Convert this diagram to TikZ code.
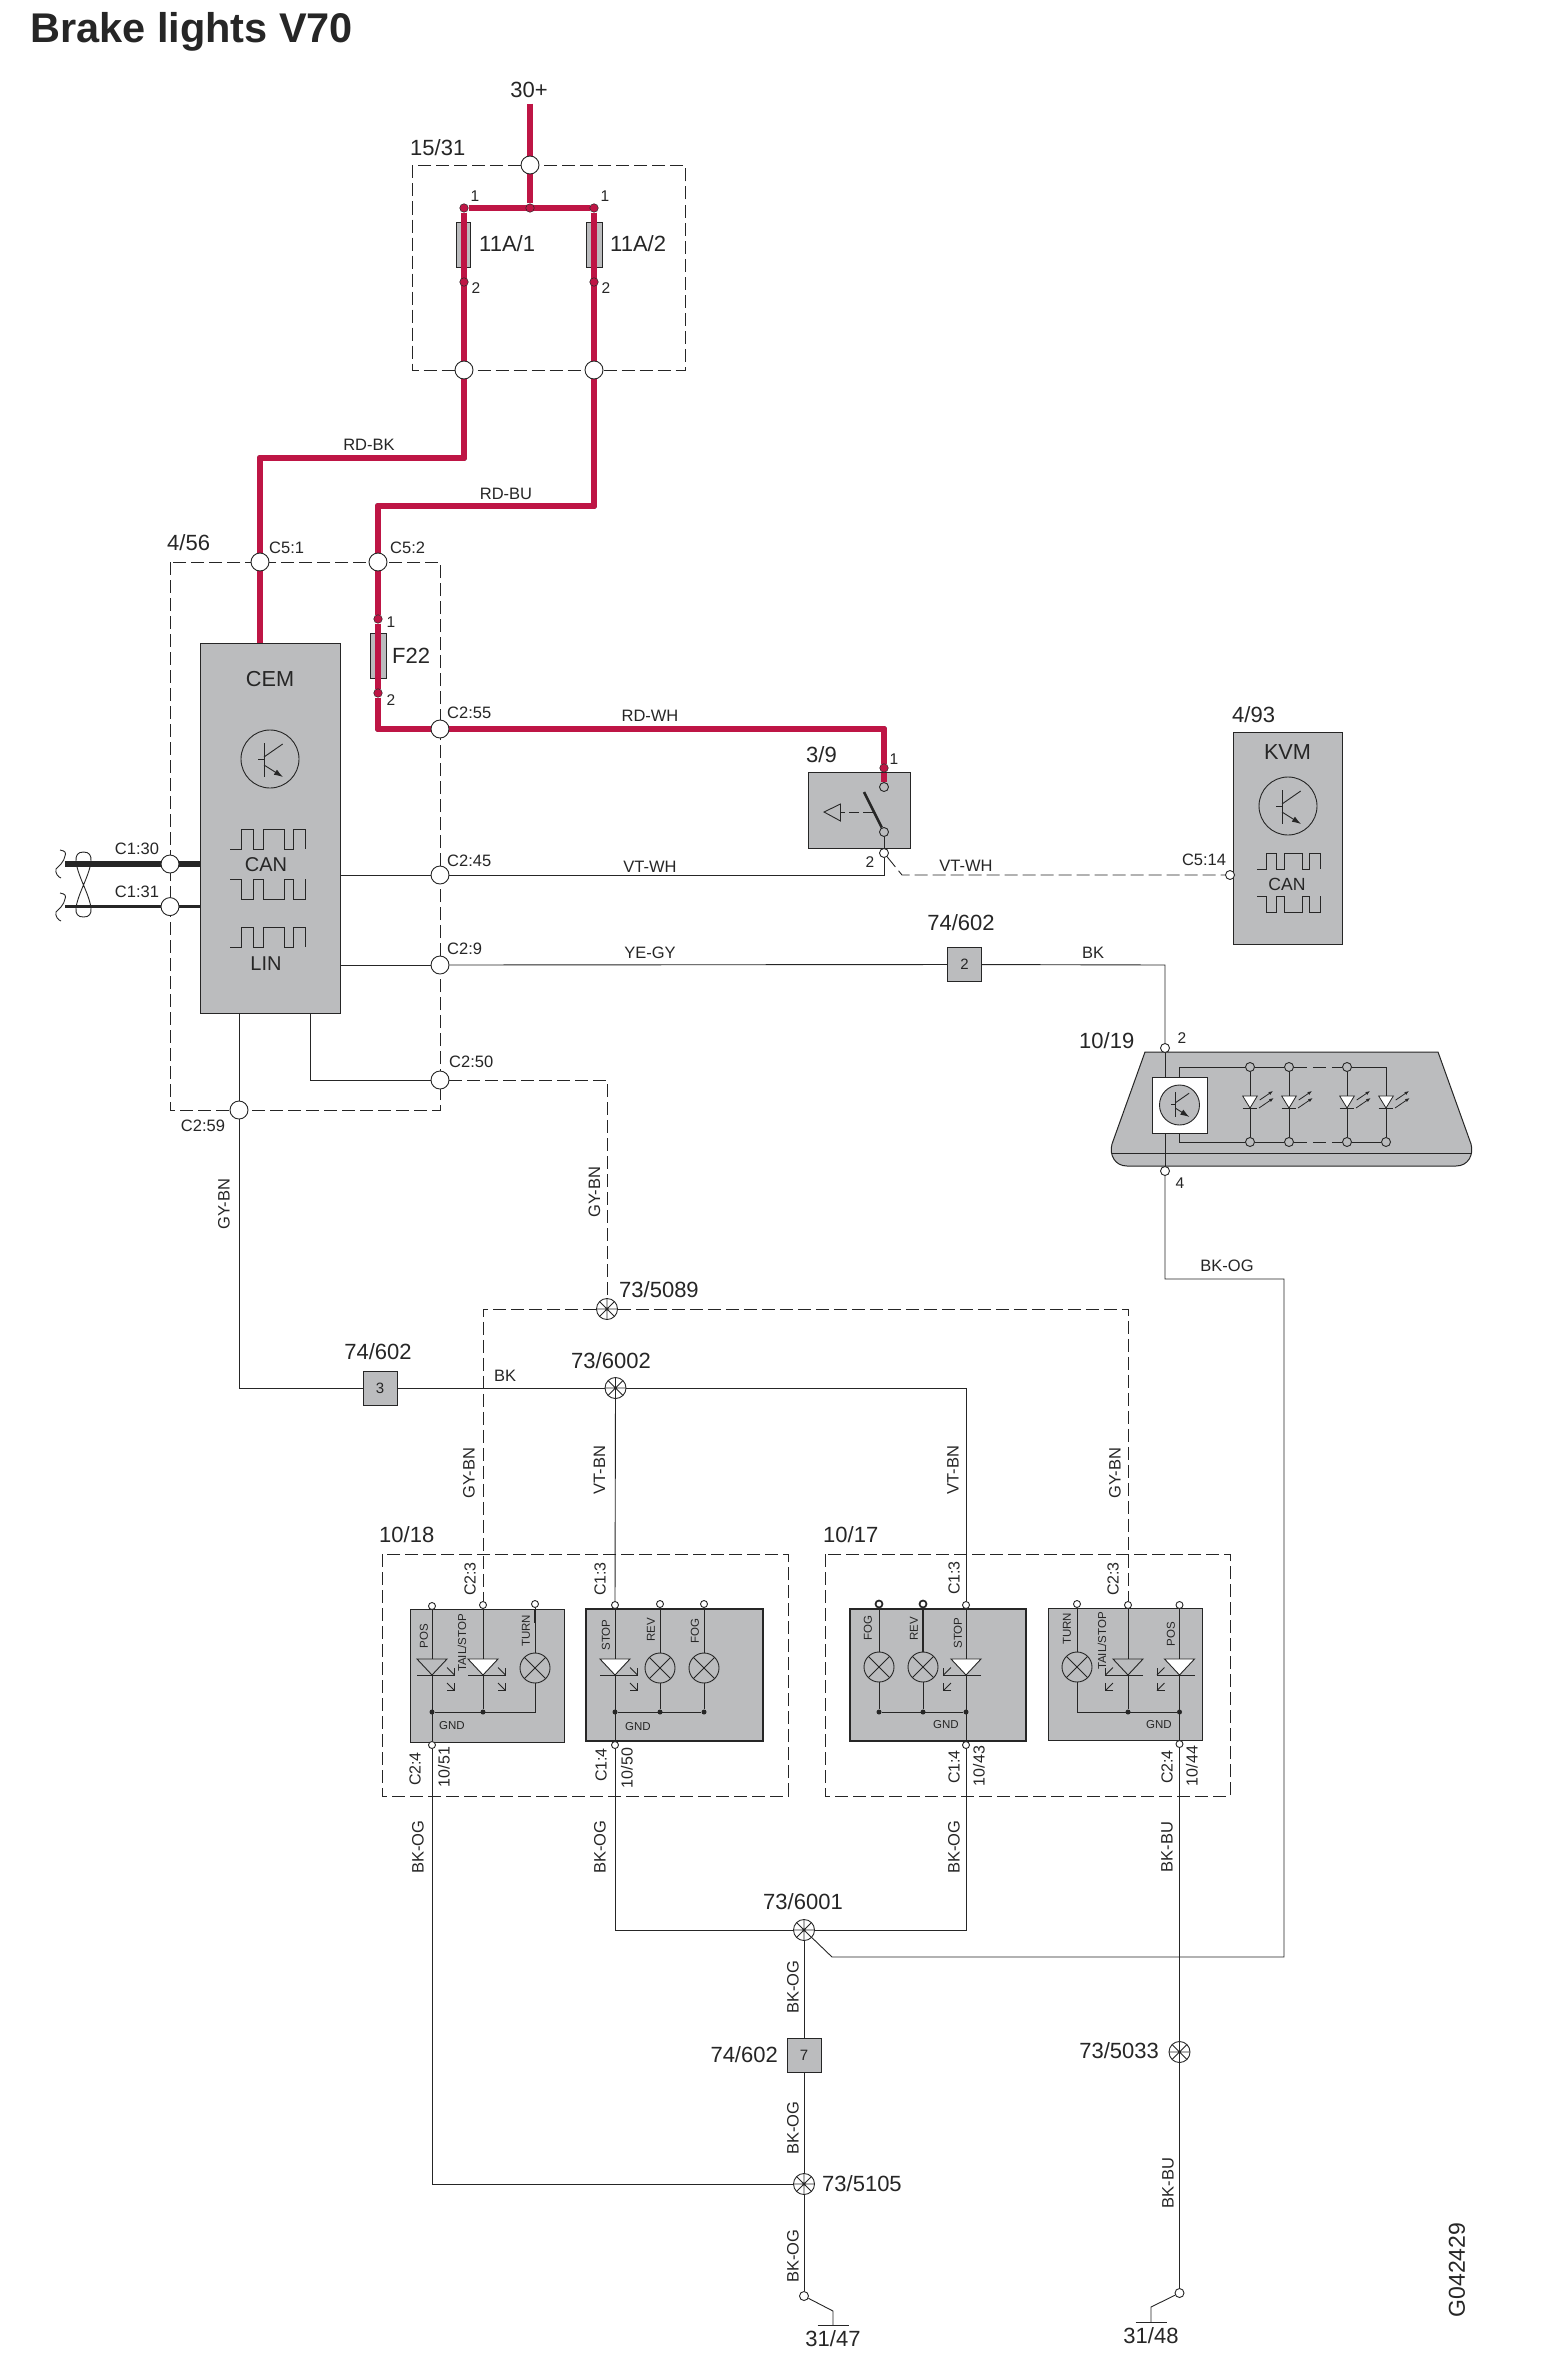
\documentclass[tikz,border=0pt]{standalone}
\usepackage{fontspec}
\setmainfont{Liberation Sans}
\usetikzlibrary{calc,arrows.meta}
\definecolor{wirered}{HTML}{BE1545}
\definecolor{modgray}{HTML}{BBBCBE}
\definecolor{inkgray}{HTML}{262626}
\pgfdeclarelayer{boxlayer}
\pgfdeclarelayer{wirelayer}
\pgfsetlayers{boxlayer,wirelayer,main}
\tikzset{
fs/.style={font=\fontsize{#1}{#1}\selectfont, inner sep=0pt, text=inkgray},
conn/.style={circle,draw=inkgray,fill=white,line width=0.9pt,inner sep=0pt,minimum size=18pt},
pin/.style={circle,draw=inkgray,fill=white,line width=0.9pt,inner sep=0pt,minimum size=#1},
pin/.default=9pt,
gpin/.style={pin=9pt,fill=modgray},
dot/.style={circle,fill=inkgray,inner sep=0pt,minimum size=5pt},
rdot/.style={circle,draw=inkgray,fill=wirered,line width=0.5pt,inner sep=0pt,minimum size=8.5pt},
lamp/.style={circle,draw=inkgray,line width=0.9pt,inner sep=0pt,minimum size=30pt,path picture={
    \draw[line width=0.9pt] (path picture bounding box.north west) -- (path picture bounding box.south east)
      (path picture bounding box.north east) -- (path picture bounding box.south west);}},
splice/.style={circle,draw=inkgray,fill=white,line width=0.9pt,inner sep=0pt,minimum size=21pt,path picture={
    \draw[line width=0.8pt] (path picture bounding box.north west) -- (path picture bounding box.south east)
      (path picture bounding box.north east) -- (path picture bounding box.south west)
      (path picture bounding box.north) -- (path picture bounding box.south)
      (path picture bounding box.west) -- (path picture bounding box.east);}},
modbox/.style={draw=inkgray,fill=modgray,line width=1pt,inner sep=0pt},
fuse/.style={draw=inkgray,fill=modgray,line width=0.7pt,inner sep=0pt,minimum height=45pt},
thinw/.style={draw=inkgray,line width=0.9pt,line join=miter},
dashw/.style={draw=inkgray,line width=0.9pt,dash pattern=on 13pt off 5pt},
redw/.style={draw=inkgray!55!wirered,double=wirered,double distance=5.4pt,line width=0.6pt,line join=round},
}
\newcommand{\tsym}[3]{%
\begin{scope}[shift={(#1,#2)},scale=#3,line width=0.9pt,draw=inkgray]
\draw (-12,0.8) -- (-6,0.8);
\draw (-6,-16) -- (-6,18);
\draw (-6,-2) -- (12.7,-15);
\draw[-{Latex[length=9pt,width=6pt]}] (-6,6) -- (13,18);
\end{scope}}
\newcommand{\pulse}[4]{%
\draw[shift={(#1,#2)},xscale=#3,yscale=#4,line width=0.9pt,draw=inkgray] (0,0) -- (11,0) -- (11,-20) -- (23,-20) -- (23,0) -- (33,0) -- (33,-20) -- (54,-20) -- (54,0) -- (63,0) -- (63,-20) -- (75,-20) -- (75,0);}
\newcommand{\ledsym}[3]{%
\begin{scope}[shift={(#1,1659)},xscale=#3,line width=0.9pt,draw=inkgray]
\filldraw[fill=#2] (-15,0) -- (15,0) -- (0,16) -- cycle;
\draw (-15,16) -- (15,16);
\foreach \dy in {8.5,24} {
    \draw (15,\dy) -- (22.5,\dy+7.5);
    \draw (15,\dy+7.5) -- (22.5,\dy+7.5) -- (22.5,\dy);
}
\end{scope}}
\newcommand{\sledsym}[1]{%
\begin{scope}[shift={(#1,1096)},line width=0.8pt,draw=inkgray]
\filldraw[fill=white] (-7.3,0) -- (7.3,0) -- (0,12) -- cycle;
\draw (-7.3,12) -- (7.3,12);
\draw[-{Latex[length=4.5pt,width=3.5pt]}] (9.7,4) -- (23,-5);
\draw[-{Latex[length=4.5pt,width=3.5pt]}] (9,12) -- (23.7,2);
\end{scope}}

\begin{document}
\begin{tikzpicture}[x=1pt,y=-1pt]
\useasboundingbox (0,0) rectangle (1552,2360);

\begin{pgfonlayer}{boxlayer}
\fill[white] (0,0) rectangle (1552,2360);
\foreach \xa/\ya/\xb/\yb in {412/165.5/685/370,170/562/440/1110,382/1554/788/1796,825/1554/1230/1796} {
    \draw[dashw] (\xa,\ya) rectangle (\xb,\yb);
}
\node[modbox,minimum width=140pt,minimum height=370pt] (cem) at (270,828) {};
\node[modbox,minimum width=109pt,minimum height=212pt] (kvm) at (1288,838) {};
\node[modbox,minimum width=102pt,minimum height=76pt] (sw) at (859,810) {};
\node[modbox,minimum width=154pt,minimum height=133pt] (moda) at (487,1675.5) {};
\node[modbox,line width=2.2pt,minimum width=177pt,minimum height=132pt] (modb) at (674.5,1675) {};
\node[modbox,line width=2.2pt,minimum width=176pt,minimum height=132pt] (modc) at (938,1675) {};
\node[modbox,minimum width=154pt,minimum height=132pt] (modd) at (1125,1674) {};
\node[fuse,minimum width=14pt] (fu1) at (463,244.5) {};
\node[fuse,minimum width=16pt] (fu2) at (594,244.5) {};
\node[fuse,minimum width=16pt] (fu3) at (378,655.5) {};
\filldraw[fill=modgray,draw=inkgray,line width=1pt] (1145,1052) -- (1438,1052) -- (1471,1144) .. controls (1474,1155) and (1468,1166) .. (1456,1166) -- (1127,1166) .. controls (1115,1166) and (1109,1155) .. (1112,1144) -- cycle;
\draw[thinw] (1112,1153) -- (1471,1153);
\end{pgfonlayer}

% connectors of the boxes
\foreach \nm/\px/\py in {j30/530/165,jf1/464/370,jf2/594/370,c51/260/562,c52/378/562,c255/440/729,c245/440/875,c29/440/965,c250/440/1080,c259/239/1110,c130/170/864,c131/170/906.6} {
    \node[conn] (\nm) at (\px,\py) {};
}
\foreach \nm/\px/\py in {d11/464/208,dm/530/208,d12/594/208,d21/464/282,d22/594/282,f1/378/619,f2/378/693,sw0/884/768} {
    \node[rdot] (\nm) at (\px,\py) {};
}
\foreach \nm/\px/\py in {sw1/884/787,sw2/884/832} {
    \node[gpin] (\nm) at (\px,\py) {};
}
\foreach \nm/\px/\py in {sw3/884/853,c514/1230/875,l2/1165/1048,l4/1165/1171,g47/804/2296,g48/1179.5/2293} {
    \node[pin] (\nm) at (\px,\py) {};
}
\foreach \nm/\px/\py in {pa1/432/1606,pa2/483/1605,pa3/535/1604,pa4/432/1745,pb1/615/1605,pb2/660/1604,pb3/704/1604,pb4/615/1745,pc3/966/1605,pc4/966/1745,pd1/1077/1604,pd2/1128/1605,pd3/1179.5/1605,pd4/1179.5/1744} {
    \node[pin=7pt] (\nm) at (\px,\py) {};
}
\foreach \nm/\px in {pc1/879,pc2/923} {
    \node[pin=7pt,line width=1.7pt] (\nm) at (\px,1604) {};
}
\foreach \nm/\px/\py in {la/535/1668,lb2/660/1668,lb3/704/1668,lc1/879/1667,lc2/923/1667,ld/1077/1667} {
    \node[lamp] (\nm) at (\px,\py) {};
}
\foreach \nm/\px in {da1/432,da2/483,db1/615,db2/660,db3/704,dc1/879,dc2/923,dc3/966,dd2/1128,dd3/1179.5} {
    \node[dot] (\nm) at (\px,1712) {};
}
\foreach \nm/\px/\py in {s5089/607/1309,s6002/615.5/1388,s6001/804/1930,s5105/804/2184,s5033/1179.5/2052} {
    \node[splice] (\nm) at (\px,\py) {};
}
\foreach \nm/\px/\py/\num in {sp2/964.5/964.5/2,sp3/380/1388/3,sp7/804/2055.5/7} {
    \node[modbox,fs=15,minimum width=34pt,minimum height=34pt] (\nm) at (\px,\py) {\num};
}

% lamp module of the brake light
\node[draw=inkgray,fill=white,line width=1pt,inner sep=0pt,minimum width=55pt,minimum height=56pt] (sq) at (1179.5,1105) {};
\node[circle,draw=inkgray,fill=modgray,line width=0.9pt,inner sep=0pt,minimum size=40pt] (sqc) at (sq) {};
\tsym{1180}{1104}{0.72}
\foreach \nm/\px in {rt1/1250,rt2/1289,rt3/1347} {
    \node[gpin] (\nm) at (\px,1067) {};
}
\foreach \nm/\px in {rb1/1250,rb2/1289,rb3/1347,rb4/1386} {
    \node[gpin] (\nm) at (\px,1142) {};
}
\foreach \px in {1250,1289,1347,1386} {
    \sledsym{\px}
}

\coordinate (w30) at (530,104);
\coordinate (bk1) at (464,458);
\coordinate (bk2) at (260,458);
\coordinate (bu1) at (594,506);
\coordinate (bu2) at (378,506);
\coordinate (wh0) at (378,729);
\coordinate (wh1) at (884,729);
\coordinate (can1) at (65,864);
\coordinate (can2) at (65,906.6);
\coordinate (vt1) at (884,875);
\coordinate (vt2) at (902,875);
\coordinate (kk1) at (1165,965);
\coordinate (ye1) at (310,1080);
\coordinate (ye2) at (607,1080);
\coordinate (gy1) at (239,1388);
\coordinate (gy2) at (483,1309);
\coordinate (gy3) at (1128,1309);
\coordinate (vt3) at (966,1388);
\coordinate (og1) at (1165,1279);
\coordinate (og2) at (1284,1279);
\coordinate (og3) at (1284,1957);
\coordinate (og4) at (832,1957);
\coordinate (og5) at (615,1930);
\coordinate (og6) at (966,1930);
\coordinate (og7) at (432,2184);
\coordinate (e47a) at (833,2311);
\coordinate (e47b) at (833,2325);
\coordinate (e48a) at (1151,2307);
\coordinate (e48b) at (1151,2322);
\coordinate (ca) at (535,1712);
\coordinate (cd) at (1077,1712);
\coordinate (rl1) at (1179,1067);
\coordinate (rl2) at (1179,1142);
\coordinate (rl3) at (1386,1067);

\begin{pgfonlayer}{wirelayer}
\draw[redw] (w30) -- (j30);
\draw[redw] (j30) -- (dm);
\draw[redw] (d11) -- (d12);
\draw[redw] (d11) -- (jf1);
\draw[redw] (d12) -- (jf2);
\draw[redw] (jf1) -- (bk1) -- (bk2) -- (c51);
\draw[redw] (jf2) -- (bu1) -- (bu2) -- (c52);
\draw[redw] (c51) -- (c51 |- cem.north);
\draw[redw] (c52) -- (f1);
\draw[redw] (f1) -- (f2);
\draw[redw] (f2) -- (wh0) -- (c255);
\draw[redw] (c255) -- (wh1) -- (sw0);
\draw[redw] (sw0) -- (sw1);
\draw[inkgray,line width=6pt] (can1) -- (c130);
\draw[inkgray,line width=6pt] (c130) -- (c130 -| cem.west);
\draw[inkgray,line width=3.5pt] (can2) -- (c131);
\draw[inkgray,line width=3.5pt] (c131) -- (c131 -| cem.west);
\draw[thinw] (c245 -| cem.east) -- (c245);
\draw[thinw] (c245) -- (vt1) -- (sw3);
\draw[thinw] (sw3) -- (sw2);
\draw[dashw] (sw3) -- (vt2) -- (c514);
\draw[thinw] (c29 -| cem.east) -- (c29);
\draw[thinw] (c29) -- (sp2);
\draw[thinw] (sp2) -- (kk1) -- (l2);
\draw[thinw] (l2) -- (l4);
\draw[thinw] (l4) -- (og1) -- (og2) -- (og3) -- (og4) -- (s6001);
\draw[thinw] (ye1 |- cem.south) -- (ye1) -- (c250);
\draw[dashw] (c250) -- (ye2) -- (s5089);
\draw[thinw] (c259 |- cem.south) -- (c259);
\draw[thinw] (c259) -- (gy1) -- (sp3);
\draw[thinw] (sp3) -- (s6002);
\draw[thinw] (s6002) -- (pb1);
\draw[thinw] (s6002) -- (vt3) -- (pc3);
\draw[dashw] (s5089) -- (gy2) -- (pa2);
\draw[dashw] (s5089) -- (gy3) -- (pd2);
% module wires
\draw[thinw] (pa1) -- (pa4);
\draw[thinw] (pa2) -- (da2);
\draw[thinw] (pa3) -- (la);
\draw[thinw] (la) -- (ca) -- (da1);
\draw[thinw] (pb1) -- (pb4);
\draw[thinw] (pb2) -- (lb2);
\draw[thinw] (lb2) -- (db2);
\draw[thinw] (pb3) -- (lb3);
\draw[thinw] (lb3) -- (db3);
\draw[thinw] (db1) -- (db3);
\draw[thinw] (pc1) -- (lc1);
\draw[thinw] (lc1) -- (dc1);
\draw[thinw,line width=2pt] (pc2) -- (lc2);
\draw[thinw] (lc2) -- (dc2);
\draw[thinw] (dc1) -- (dc3);
\draw[thinw] (pc3) -- (pc4);
\draw[thinw] (pd1) -- (ld);
\draw[thinw] (ld) -- (cd) -- (dd3);
\draw[thinw] (pd2) -- (dd2);
\draw[thinw] (pd3) -- (pd4);
\draw[thinw,line width=2pt] (pa3 |- moda.north) -- ++(0,14);
% wires to ground
\draw[thinw] (pa4) -- (og7) -- (s5105);
\draw[thinw] (pb4) -- (og5) -- (s6001);
\draw[thinw] (pc4) -- (og6) -- (s6001);
\draw[thinw] (pd4) -- (s5033);
\draw[thinw] (s5033) -- (g48);
\draw[thinw] (s6001) -- (sp7);
\draw[thinw] (sp7) -- (s5105);
\draw[thinw] (s5105) -- (g47);
\draw[thinw] (g47) -- (e47a) -- (e47b);
\draw[thinw] (g48) -- (e48a) -- (e48b);
\draw[thinw] (e47b) ++(-15.5,0) -- ++(31,0);
\draw[thinw] (e48b) ++(-15.5,0) -- ++(31,0);
% rails of the lamp module
\draw[thinw] (sq.north -| rl1) -- (rl1) -- (rt1);
\draw[thinw] (sq.south -| rl2) -- (rl2) -- (rb1);
\draw[thinw] (rt1) -- (rt2);
\draw[thinw] (rb1) -- (rb2);
\draw[thinw] (rb3) -- (rb4);
\draw[thinw] (rt3) -- (rl3) -- (rb4);
\draw[thinw,dash pattern=on 13pt off 6pt] (rt2) -- (rt3);
\draw[thinw,dash pattern=on 13pt off 6pt] (rb2) -- (rb3);
\draw[thinw] (rt1) -- (rb1);
\draw[thinw] (rt2) -- (rb2);
\draw[thinw] (rt3) -- (rb3);
\end{pgfonlayer}

\ledsym{432}{modgray}{1}
\ledsym{483}{white}{1}
\ledsym{615}{white}{1}
\ledsym{966}{white}{-1}
\ledsym{1128}{modgray}{-1}
\ledsym{1179.5}{white}{-1}

% switch
\draw[inkgray,line width=2.6pt] (864,792) -- (sw2);
\draw[dashw,dash pattern=on 10pt off 4pt] (873,812) -- (841,812);
\filldraw[fill=modgray,draw=inkgray,line width=0.9pt] (824,812) -- (840.5,804) -- (840.5,821) -- cycle;

% twisted pair
\draw[line width=0.9pt,draw=inkgray] (83.5,885) .. controls (75,865) and (72,852) .. (83.5,852) .. controls (95,852) and (92,865) .. (83.5,885) .. controls (75,905) and (72,917) .. (83.5,917) .. controls (95,917) and (92,905) .. (83.5,885);
\foreach \dy in {0,43} {
    \draw[line width=0.9pt,draw=inkgray,yshift=-\dy pt] (60,850) .. controls (66,851) and (66,853) .. (65,856) .. controls (64,862) and (59,866) .. (56,869) .. controls (55,873) and (58,877) .. (61,878);
}

\tsym{270}{759}{1}
\draw[line width=0.9pt,draw=inkgray] (270,759) circle (29);
\tsym{1288}{806}{1}
\draw[line width=0.9pt,draw=inkgray] (1288,806) circle (29);
\pulse{230}{849}{1}{1}
\pulse{230}{879}{1}{-1}
\pulse{230}{947}{1}{1}
\pulse{1257}{869}{0.84}{0.8}
\pulse{1257}{896}{0.84}{-0.8}

\node[anchor=west,fs=41.5,font=\fontsize{41.5}{42}\selectfont\bfseries] (title) at (30,31.5) {Brake lights V70};
\node[fs=23,rotate=90] (drawno) at (1457,2270) {G042429};
\foreach \px/\py/\fz/\txt [count=\i] in {270/679/21.7/CEM,1287.5/752/21.7/KVM,266/865/20/CAN,266/964/20/LIN,1287/884/17.6/CAN} {
    \node[fs=\fz] (mt\i) at (\px,\py) {\txt};
}
\foreach \px/\py/\txt [count=\i] in {369/445/RD-BK,506/494/RD-BU,650/716/RD-WH,650/867/VT-WH,966/866/VT-WH,650/953/YE-GY,1093/953/BK,505/1376/BK,1227/1266/BK-OG,137/849/C1:30,137/892/C1:31,203/1126/C2:59,1204/860/C5:14} {
    \node[fs=16.5] (wl\i) at (\px,\py) {\txt};
}
\foreach \px/\py/\txt [count=\i] in {269/548/C5:1,390/548/C5:2,447/713/C2:55,447/861/C2:45,447/949/C2:9,449/1062/C2:50} {
    \node[fs=16.5,anchor=west] (cl\i) at (\px,\py) {\txt};
}
\foreach \px/\py/\txt [count=\i] in {224/1204/GY-BN,594.5/1192/GY-BN,469/1473/GY-BN,1115/1473/GY-BN,599.5/1470/VT-BN,953/1470/VT-BN,418/1847/BK-OG,600/1847/BK-OG,954/1847/BK-OG,793/1987/BK-OG,793/2128/BK-OG,793/2256/BK-OG,1167/1847/BK-BU,1168/2183/BK-BU} {
    \node[fs=16.5,rotate=90] (vw\i) at (\px,\py) {\txt};
}
\foreach \px/\py/\txt [count=\i] in {470/1579/C2:3,415/1769/C2:4,444/1767/{10/51},600/1579/C1:3,601/1765/C1:4,627/1768/{10/50},954/1578/C1:3,954/1767/C1:4,979/1766/{10/43},1113/1579/C2:3,1167/1767/C2:4,1192/1766/{10/44}} {
    \node[fs=16,rotate=90] (vc\i) at (\px,\py) {\txt};
}
\foreach \px/\py/\txt [count=\i] in {475/196/1,605/196/1,476/288/2,606/288/2,391/622/1,391/700/2,894/759/1,870/862/2,1182/1038/2,1180/1183/4} {
    \node[fs=15.5] (pn\i) at (\px,\py) {\txt};
}
\foreach \px/\py/\txt [count=\i] in {410/148/{15/31},167/543/{4/56},806/755/{3/9},1232/715/{4/93},1079/1041/{10/19},379/1535/{10/18},823/1535/{10/17},479/244/{11A/1},610/244/{11A/2},392/656/F22,619/1290/{73/5089},822/2184/{73/5105}} {
    \node[fs=22,anchor=west] (rw\i) at (\px,\py) {\txt};
}
\foreach \px/\py/\txt [count=\i] in {529/90/30+,961/923/{74/602},378/1352/{74/602},611/1361/{73/6002},803/1902/{73/6001},833/2339/{31/47},1151/2336/{31/48}} {
    \node[fs=22] (rc\i) at (\px,\py) {\txt};
}
\foreach \px/\py/\txt [count=\i] in {778/2055/{74/602},1159/2051/{73/5033}} {
    \node[fs=22,anchor=east] (re\i) at (\px,\py) {\txt};
}
\foreach \px/\py/\txt [count=\i] in {452/1726/GND,638/1727/GND,946/1725/GND,1159/1725/GND} {
    \node[fs=11.5] (gn\i) at (\px,\py) {\txt};
}
\foreach \px/\py/\txt [count=\i] in {424/1636/POS,462/1643/{TAIL/STOP},526/1631/TURN,606/1635/STOP,651/1630/REV,695/1631/FOG,868/1628/FOG,914/1629/REV,958/1633/STOP,1067/1629/TURN,1102/1641/{TAIL/STOP},1171/1634/POS} {
    \node[fs=11.5,rotate=90] (ml\i) at (\px,\py) {\txt};
}
\end{tikzpicture}
\end{document}
